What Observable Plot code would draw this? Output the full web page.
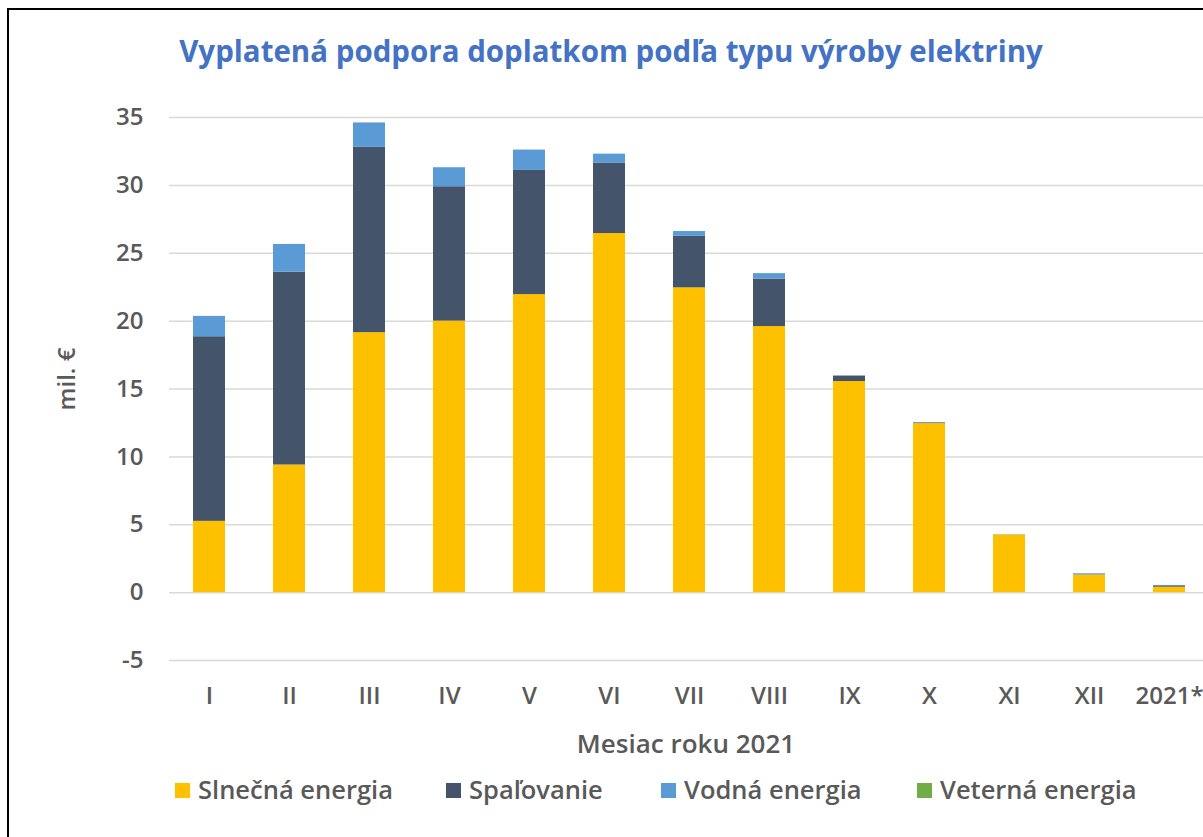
<!DOCTYPE html>
<html>
<head>
<meta charset="utf-8">
<script src="https://cdn.jsdelivr.net/npm/d3@7"></script>
<script src="https://cdn.jsdelivr.net/npm/@observablehq/plot@0.6"></script>
<style>
  html, body { margin:0; padding:0; background:#fff; overflow:hidden; width:1203px; height:837px; }
  #wrap { position:relative; width:1203px; height:837px; overflow:hidden; font-family:"Open Sans", Lato, sans-serif; color:#595959; }
  #frame { position:absolute; left:7px; top:8px; width:1300px; height:900px; border-left:2px solid #000; border-top:2px solid #000; box-sizing:border-box; }
  #title { position:absolute; left:0; width:1222px; top:31px; text-align:center; font-weight:700; font-size:29.5px; color:#4472C4; line-height:40px; white-space:nowrap; }
  #chart { position:absolute; left:0; top:80px; width:1215px; }
  #chart svg { max-width:none !important; }
  #xlabel { position:absolute; left:0; width:1372px; top:726px; text-align:center; font-weight:600; font-size:26px; line-height:34px; }
  #ylabel { position:absolute; left:65px; top:379px; transform:translate(-50%,-50%) rotate(-90deg); font-weight:600; font-size:24px; white-space:nowrap; }
  .leg { position:absolute; top:772px; font-weight:600; font-size:25.5px; line-height:34px; white-space:nowrap; }
  .leg i { display:inline-block; width:15px; height:15px; margin-right:8px; vertical-align:middle; position:relative; top:-2px; }
</style>
</head>
<body>
<div id="wrap">
  <div id="frame"></div>
  <div id="title"></div>
  <div id="chart"></div>
  <div id="xlabel"></div>
  <div id="ylabel"></div>
</div>
<script>
const months = ["I","II","III","IV","V","VI","VII","VIII","IX","X","XI","XII","2021*"];
const seriesNames = ["Slnečná energia","Spaľovanie","Vodná energia","Veterná energia"];
const seriesColors = ["#FFC000","#44546A","#5B9BD5","#70AD47"];
const solar   = [5.25, 9.4, 19.15, 20.0, 21.95, 26.45, 22.45, 19.6, 15.55, 12.45, 4.25, 1.3, 0.4];
const spal    = [13.6, 14.2, 13.65, 9.9, 9.15, 5.2, 3.8, 3.5, 0.4, 0.05, 0.0, 0.02, 0.1];
const vodna   = [1.5, 2.05, 1.8, 1.4, 1.5, 0.65, 0.35, 0.4, 0.02, 0.03, 0.02, 0.07, 0.03];
const veterna = [0, 0, 0, 0, 0, 0, 0, 0, 0, 0, 0, 0, 0];
const yTicks = [-5, 0, 5, 10, 15, 20, 25, 30, 35];
const titleText = "Vyplatená podpora doplatkom podľa typu výroby elektriny";
const xTitle = "Mesiac roku 2021";
const yTitle = "mil. €";

const seriesValues = [solar, spal, vodna, veterna];
const table = [];
seriesNames.forEach((s, si) => {
  months.forEach((m, mi) => table.push({month: m, series: s, value: seriesValues[si][mi]}));
});

document.getElementById("title").textContent = titleText;
document.getElementById("xlabel").textContent = xTitle;
document.getElementById("ylabel").textContent = yTitle;

const chart = Plot.plot({
  width: 1215,
  height: 650,
  marginLeft: 169,
  marginRight: 6,
  marginTop: 37,
  marginBottom: 70,
  style: {fontFamily: "'Open Sans', Lato, sans-serif", fontSize: "24px", fontWeight: "600", color: "#595959", background: "transparent", overflow: "visible", maxWidth: "none"},
  x: {domain: months, paddingInner: 0.6, paddingOuter: 0.3, label: null},
  y: {domain: [-5, 35], label: null},
  color: {domain: seriesNames, range: seriesColors},
  marks: [
    Plot.ruleY(yTicks, {stroke: "#D9D9D9", strokeWidth: 1.5}),
    Plot.barY(table, {x: "month", y: "value", fill: "series"}),
    Plot.axisY(yTicks, {tickSize: 0, tickPadding: 26, label: null, fill: "#595959", tickFormat: d => String(d)}),
    Plot.axisX({tickSize: 0, tickPadding: 26, label: null, fill: "#595959"})
  ]
});
document.getElementById("chart").appendChild(chart);

const legendLeft = [175, 446, 661, 917];
const wrap = document.getElementById("wrap");
seriesNames.forEach((s, i) => {
  const d = document.createElement("div");
  d.className = "leg";
  d.style.left = legendLeft[i] + "px";
  const sw = document.createElement("i");
  sw.style.background = seriesColors[i];
  d.appendChild(sw);
  d.appendChild(document.createTextNode(s));
  wrap.appendChild(d);
});
</script>
</body>
</html>
